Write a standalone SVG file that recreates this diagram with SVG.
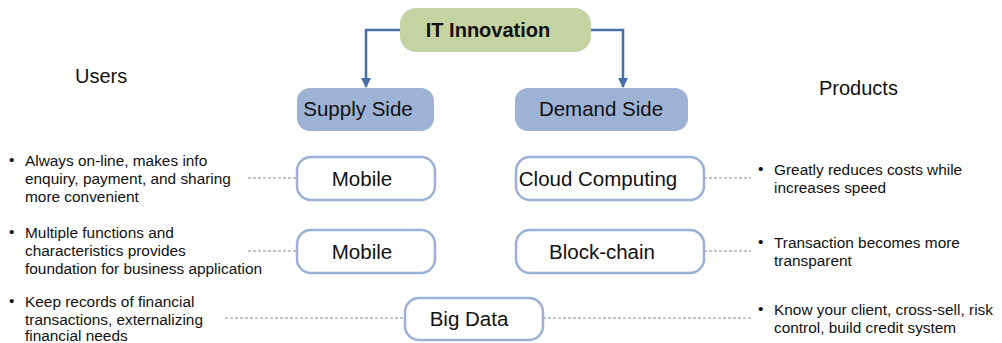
<svg xmlns="http://www.w3.org/2000/svg" width="1002" height="343" viewBox="0 0 1002 343">
  <style>
    text { font-family: "Liberation Sans", Arial, sans-serif; fill: #111; }
    .title { font-size: 20px; font-weight: bold; text-anchor: middle; }
    .side { font-size: 20.5px; text-anchor: middle; }
    .node { font-size: 20.5px; text-anchor: middle; }
    .note { font-size: 15.4px; }
    .head { font-size: 20px; }
    .side-box { fill: #9db2d5; stroke: none; }
    .tech-box { fill: #ffffff; stroke: #9ab0d5; stroke-width: 2.5; }
    .link { stroke: #4a6eac; stroke-width: 2.5; fill: none; }
    .dash { stroke: #8a8a8a; stroke-width: 1; stroke-dasharray: 3 2; fill: none; }
  </style>
  <defs>
    <marker id="arrow" viewBox="0 0 10 10" refX="9" refY="5" markerWidth="4" markerHeight="4" orient="auto" markerUnits="strokeWidth">
      <path d="M0,0 L10,5 L0,10 z" fill="#4a6eac"/>
    </marker>
  </defs>

  <!-- connectors -->
  <g id="connectors">
    <path class="link" d="M400,30 H366 V87" marker-end="url(#arrow)"/>
    <path class="link" d="M591,30 H623 V87" marker-end="url(#arrow)"/>
    <line class="dash" x1="248" y1="178" x2="296" y2="178"/>
    <line class="dash" x1="248" y1="251" x2="296" y2="251"/>
    <line class="dash" x1="225" y1="318" x2="404" y2="318"/>
    <line class="dash" x1="704" y1="178" x2="751" y2="178"/>
    <line class="dash" x1="704" y1="251" x2="751" y2="251"/>
    <line class="dash" x1="543" y1="318" x2="751" y2="318"/>
  </g>

  <g id="it-innovation">
    <rect x="400" y="8" width="191" height="44" rx="16" fill="#c4d3a1"/>
    <text class="title" x="488" y="37">IT Innovation</text>
  </g>

  <g id="supply-side">
    <rect class="side-box" x="297" y="88" width="137" height="43" rx="13"/>
    <text class="side" x="358" y="116">Supply Side</text>
  </g>
  <g id="demand-side">
    <rect class="side-box" x="515" y="88" width="173" height="43" rx="13"/>
    <text class="side" x="601" y="116">Demand Side</text>
  </g>

  <g id="mobile-1">
    <rect class="tech-box" x="297" y="157" width="138" height="43" rx="14"/>
    <text class="node" x="362" y="186">Mobile</text>
  </g>
  <g id="mobile-2">
    <rect class="tech-box" x="297" y="230" width="138" height="43" rx="14"/>
    <text class="node" x="362" y="259">Mobile</text>
  </g>
  <g id="cloud-computing">
    <rect class="tech-box" x="516" y="157" width="188" height="43" rx="14"/>
    <text class="node" x="598" y="186">Cloud Computing</text>
  </g>
  <g id="block-chain">
    <rect class="tech-box" x="516" y="230" width="188" height="43" rx="14"/>
    <text class="node" x="602" y="259">Block-chain</text>
  </g>
  <g id="big-data">
    <rect class="tech-box" x="405" y="298" width="138" height="42" rx="14"/>
    <text class="node" x="469" y="326">Big Data</text>
  </g>

  <g id="headings">
    <text class="head" x="75" y="83">Users</text>
    <text class="head" x="819" y="95">Products</text>
  </g>

  <g id="user-notes">
    <text class="note" x="9" y="165">•</text>
    <text class="note" x="25" y="166">Always on-line, makes info</text>
    <text class="note" x="25" y="184">enquiry, payment, and sharing</text>
    <text class="note" x="25" y="202">more convenient</text>

    <text class="note" x="9" y="237">•</text>
    <text class="note" x="25" y="238">Multiple functions and</text>
    <text class="note" x="25" y="256">characteristics provides</text>
    <text class="note" x="25" y="274">foundation for business application</text>

    <text class="note" x="9" y="306">•</text>
    <text class="note" x="25" y="307">Keep records of financial</text>
    <text class="note" x="25" y="325">transactions, externalizing</text>
    <text class="note" x="25" y="341">financial needs</text>
  </g>

  <g id="product-notes">
    <text class="note" x="758" y="174">•</text>
    <text class="note" x="774" y="175">Greatly reduces costs while</text>
    <text class="note" x="774" y="193">increases speed</text>

    <text class="note" x="758" y="247">•</text>
    <text class="note" x="774" y="248">Transaction becomes more</text>
    <text class="note" x="774" y="266">transparent</text>

    <text class="note" x="758" y="314">•</text>
    <text class="note" x="774" y="315">Know your client, cross-sell, risk</text>
    <text class="note" x="774" y="333">control, build credit system</text>
  </g>
</svg>
